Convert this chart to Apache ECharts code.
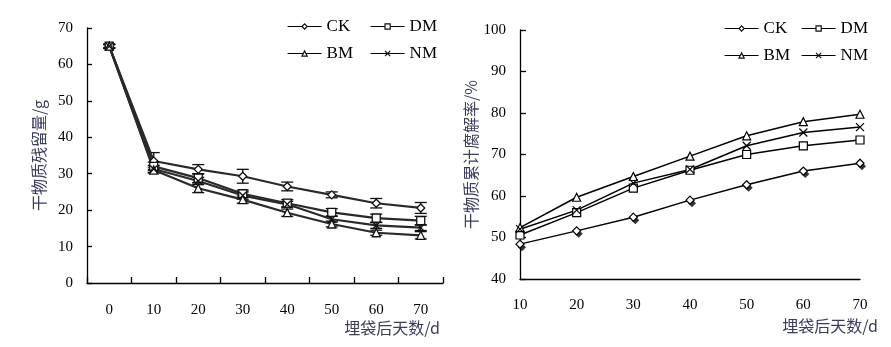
<!DOCTYPE html>
<html>
<head>
<meta charset="utf-8">
<script src="https://cdn.jsdelivr.net/npm/echarts@6/dist/echarts.min.js"></script>
<style>
  html, body { margin: 0; padding: 0; background: #fff; }
  #chart { width: 891px; height: 347px; }
</style>
</head>
<body>
<div id="chart"></div>
<script>
// Left panel: dry-matter residue (g) by days after burial, mean ± error
const daysLeft = ['0', '10', '20', '30', '40', '50', '60', '70'];
const residueCK = [65, 33.5, 31.2, 29.3, 26.5, 24.2, 21.9, 20.6];
const residueDM = [65, 32.0, 28.8, 24.5, 21.9, 19.4, 17.8, 17.1];
const residueBM = [65, 31.0, 26.0, 22.9, 19.3, 16.2, 13.8, 13.1];
const residueNM = [65, 31.3, 28.0, 24.0, 21.6, 17.5, 15.8, 15.2];
const errCK = [0.6, 2.3, 1.3, 1.9, 1.2, 0.8, 1.3, 1.5];
const errDM = [0.5, 1.2, 1.2, 1.0, 1.0, 1.0, 1.1, 1.2];
const errBM = [0.4, 0.8, 1.2, 1.0, 1.0, 0.8, 0.7, 1.0];
const errNM = [0.5, 1.0, 1.0, 1.0, 0.8, 0.8, 0.8, 0.8];

// Right panel: cumulative decomposition rate (%)
const daysRight = [10, 20, 30, 40, 50, 60, 70];
const rateCK = [48.4, 51.6, 54.9, 59.0, 62.7, 66.0, 67.9];
const rateDM = [50.6, 56.0, 61.9, 66.2, 70.0, 72.1, 73.5];
const rateBM = [52.4, 59.7, 64.7, 69.6, 74.5, 77.9, 79.7];
const rateNM = [52.0, 56.6, 63.1, 66.4, 72.1, 75.3, 76.6];

const treatments = ['CK', 'DM', 'BM', 'NM'];
const serif = 'Liberation Serif';
const cjk = 'Noto Sans CJK SC';
const nameColor = '#3a3d5c';
const crossPath = 'path://M0,0L10,10M10,0L0,10';
const symbols = { CK: 'diamond', DM: 'rect', BM: 'triangle', NM: crossPath };

const left = { CK: residueCK, DM: residueDM, BM: residueBM, NM: residueNM };
const leftErr = { CK: errCK, DM: errDM, BM: errBM, NM: errNM };
const right = { CK: rateCK, DM: rateDM, BM: rateBM, NM: rateNM };

function errRender(params, api) {
  const i = api.value(0), v = api.value(1), e = api.value(2);
  const top = api.coord([i, v + e]);
  const bot = api.coord([i, v - e]);
  const hw = 6;
  const st = { stroke: '#111', lineWidth: 1.3 };
  return {
    type: 'group',
    children: [
      { type: 'line', shape: { x1: top[0], y1: top[1], x2: bot[0], y2: bot[1] }, style: st },
      { type: 'line', shape: { x1: top[0] - hw, y1: top[1], x2: top[0] + hw, y2: top[1] }, style: st },
      { type: 'line', shape: { x1: bot[0] - hw, y1: bot[1], x2: bot[0] + hw, y2: bot[1] }, style: st }
    ]
  };
}

const series = [];
treatments.forEach(function (t) {
  series.push({
    type: 'custom',
    xAxisIndex: 0, yAxisIndex: 0,
    renderItem: errRender,
    encode: { x: 0, y: 1 },
    data: left[t].map(function (v, i) { return [i, v, leftErr[t][i]]; }),
    z: 1,
    silent: true
  });
});
treatments.forEach(function (t) {
  series.push({
    name: t,
    type: 'line',
    xAxisIndex: 0, yAxisIndex: 0,
    data: left[t],
    symbol: symbols[t],
    symbolSize: t === 'NM' ? 7 : 8,
    showAllSymbol: true,
    lineStyle: { color: '#2a2a2a', width: 2.2 },
    itemStyle: { color: '#fff', borderColor: '#111', borderWidth: 1.3 },
    z: 3
  });
});
// Shadow marks under the CK diamonds on the right panel
series.push({
  type: 'scatter',
  xAxisIndex: 1, yAxisIndex: 1,
  data: daysRight.map(function (d, i) { return [d, rateCK[i]]; }),
  symbol: 'diamond',
  symbolSize: 8,
  symbolOffset: [2, 3],
  itemStyle: { color: '#000' },
  z: 1,
  silent: true
});
treatments.forEach(function (t) {
  series.push({
    name: t,
    type: 'line',
    xAxisIndex: 1, yAxisIndex: 1,
    data: daysRight.map(function (d, i) { return [d, right[t][i]]; }),
    symbol: symbols[t],
    symbolSize: 8,
    lineStyle: { color: '#000', width: 1.5 },
    itemStyle: { color: '#fff', borderColor: '#000', borderWidth: 1.2 },
    z: 3
  });
});

function legendAt(name, x, y) {
  return {
    data: [name],
    left: x, top: y,
    padding: 0,
    itemWidth: 34, itemHeight: 6.5, itemGap: 5,
    selectedMode: false,
    lineStyle: { width: 1.2, color: '#000' },
    itemStyle: { borderWidth: 1.2 },
    textStyle: { fontFamily: serif, fontSize: 17, color: '#000' }
  };
}

const axisLine = { show: true, lineStyle: { color: '#000', width: 1.3 } };
const labelStyle = { fontFamily: serif, fontSize: 15, color: '#000' };
const nameStyle = { fontFamily: cjk, fontSize: 16, color: nameColor };

const option = {
  animation: false,
  backgroundColor: '#fff',
  grid: [
    { left: 87, top: 28, width: 356, height: 255 },
    { left: 520, top: 30, width: 340, height: 249 }
  ],
  legend: [
    legendAt('CK', 287, 18), legendAt('DM', 370, 18),
    legendAt('BM', 287, 45), legendAt('NM', 370, 45),
    legendAt('CK', 724, 20), legendAt('DM', 801, 20),
    legendAt('BM', 724, 47), legendAt('NM', 801, 47)
  ],
  xAxis: [
    {
      type: 'category', gridIndex: 0, data: daysLeft, boundaryGap: true,
      axisLine: axisLine,
      axisTick: { show: true, inside: true, length: 6, lineStyle: { color: '#000', width: 1.3 } },
      axisLabel: Object.assign({ margin: 20 }, labelStyle),
      splitLine: { show: false },
      name: '埋袋后天数/d', nameLocation: 'end', nameGap: -3,
      nameTextStyle: Object.assign({ align: 'right', verticalAlign: 'top', padding: [37, 0, 0, 0] }, nameStyle)
    },
    {
      type: 'value', gridIndex: 1, min: 10, max: 70, interval: 10,
      axisLine: axisLine,
      axisTick: { show: false },
      axisLabel: Object.assign({ margin: 19 }, labelStyle),
      splitLine: { show: false },
      name: '埋袋后天数/d', nameLocation: 'end', nameGap: 18,
      nameTextStyle: Object.assign({ align: 'right', verticalAlign: 'top', padding: [39, 0, 0, 0] }, nameStyle)
    }
  ],
  yAxis: [
    {
      type: 'value', gridIndex: 0, min: 0, max: 70, interval: 10,
      axisLine: axisLine,
      axisTick: { show: true, inside: true, length: 5, lineStyle: { color: '#000', width: 1.3 } },
      axisLabel: Object.assign({ margin: 14 }, labelStyle),
      splitLine: { show: false },
      name: '干物质残留量/g', nameLocation: 'middle', nameGap: 40,
      nameTextStyle: nameStyle
    },
    {
      type: 'value', gridIndex: 1, min: 40, max: 100, interval: 10,
      axisLine: axisLine,
      axisTick: { show: true, inside: true, length: 6, lineStyle: { color: '#000', width: 1.3 } },
      axisLabel: Object.assign({ margin: 14 }, labelStyle),
      splitLine: { show: false },
      name: '干物质累计腐解率/%', nameLocation: 'middle', nameGap: 41,
      nameTextStyle: nameStyle
    }
  ],
  series: series
};

const chart = echarts.init(document.getElementById('chart'), null, { renderer: 'canvas' });
chart.setOption(option);
</script>
</body>
</html>
